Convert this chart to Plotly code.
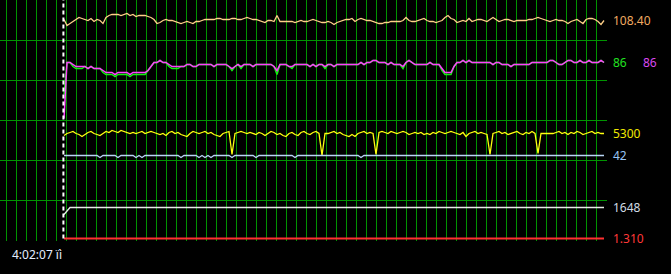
import plotly.graph_objects as go

# ---------------- data ----------------
t = list(range(0, 181))  # sample time, s (1 sample per second)

fps = [
    108.9, 105.9, 106.9, 107.9, 108.9, 109.9, 109.4, 108.9, 108.4, 109.4,
    107.9, 108.9, 108.4, 106.9, 109.9, 110.9, 111.4, 111.4, 111.4, 110.9,
    111.4, 111.9, 110.9, 111.4, 110.4, 110.9, 110.9, 110.9, 110.4, 109.9,
    108.9, 106.9, 107.4, 108.4, 108.9, 108.4, 108.4, 107.9, 107.4, 106.9,
    107.4, 107.9, 107.4, 106.9, 107.9, 107.9, 108.4, 108.9, 108.9, 108.9,
    108.9, 109.4, 109.4, 108.9, 108.9, 108.9, 109.4, 109.4, 108.9, 108.9,
    109.4, 109.9, 109.4, 108.9, 108.9, 108.4, 107.9, 107.4, 108.4, 108.4,
    107.9, 110.9, 107.9, 107.9, 107.9, 107.9, 107.9, 107.4, 107.9, 108.4,
    107.9, 107.9, 108.4, 108.9, 108.4, 107.9, 107.4, 107.4, 107.9, 107.4,
    106.4, 107.4, 107.9, 108.4, 108.9, 108.9, 109.4, 107.9, 108.9, 109.4,
    108.9, 108.4, 108.4, 107.9, 107.4, 106.9, 106.9, 107.4, 107.4, 107.9,
    107.9, 107.9, 107.9, 108.4, 109.9, 108.4, 107.9, 107.9, 108.4, 108.9,
    109.4, 108.4, 107.9, 107.9, 107.4, 107.9, 108.4, 109.9, 110.9, 109.4,
    108.9, 107.4, 107.9, 108.4, 107.9, 109.4, 107.9, 108.4, 108.9, 108.9,
    108.4, 107.9, 108.9, 109.9, 108.9, 107.9, 108.4, 108.9, 108.9, 108.4,
    107.9, 108.4, 108.4, 108.4, 108.4, 108.9, 108.9, 109.4, 109.9, 109.4,
    108.9, 108.4, 107.9, 108.4, 108.9, 108.4, 108.4, 107.9, 106.9, 107.9,
    108.4, 108.9, 107.9, 106.9, 108.9, 109.4, 109.4, 108.9, 107.9, 106.4,
    108.4,
]

temp_b = [  # magenta
    58, 86, 86, 85, 84, 84, 84, 84, 83, 84,
    83, 83, 83, 82, 81, 81, 81, 80, 81, 81,
    81, 81, 80, 81, 81, 81, 81, 81, 82, 84,
    86, 86, 87, 86, 86, 85, 84, 84, 84, 84,
    84, 85, 85, 84, 84, 85, 85, 85, 85, 85,
    84, 85, 85, 85, 85, 84, 83, 84, 85, 84,
    85, 85, 85, 84, 85, 85, 85, 85, 85, 85,
    84, 82, 85, 85, 85, 84, 84, 85, 85, 85,
    85, 85, 84, 85, 84, 85, 85, 84, 85, 85,
    84, 85, 85, 85, 85, 85, 85, 85, 85, 86,
    85, 86, 86, 87, 87, 86, 86, 86, 85, 86,
    85, 85, 85, 84, 86, 87, 86, 85, 85, 85,
    85, 85, 86, 85, 85, 85, 83, 81, 81, 81,
    84, 86, 86, 87, 86, 87, 86, 86, 86, 86,
    86, 86, 86, 85, 86, 86, 85, 85, 85, 84,
    85, 85, 85, 85, 85, 85, 86, 86, 86, 86,
    86, 86, 87, 87, 86, 85, 85, 86, 87, 87,
    86, 86, 87, 86, 86, 87, 86, 86, 86, 87,
    86,
]

temp_a = [  # green
    70, 86, 86, 84, 83, 83, 83, 84, 83, 84,
    83, 83, 83, 81, 80, 80, 80, 79, 80, 80,
    80, 80, 79, 80, 80, 80, 80, 80, 82, 84,
    86, 86, 87, 86, 86, 84, 83, 83, 83, 84,
    84, 85, 85, 84, 84, 85, 85, 85, 85, 85,
    84, 85, 85, 85, 85, 84, 82, 84, 85, 83,
    85, 85, 85, 84, 85, 85, 85, 85, 85, 85,
    84, 80, 85, 85, 85, 84, 83, 85, 85, 85,
    85, 85, 84, 85, 84, 85, 85, 83, 85, 85,
    84, 85, 85, 85, 85, 85, 85, 85, 85, 86,
    85, 86, 86, 87, 87, 86, 86, 86, 85, 86,
    85, 85, 85, 83, 86, 87, 86, 85, 85, 85,
    85, 85, 86, 85, 85, 85, 82, 80, 80, 80,
    84, 86, 86, 87, 86, 87, 86, 86, 86, 86,
    86, 86, 86, 85, 86, 86, 85, 85, 85, 84,
    85, 85, 85, 85, 85, 85, 86, 86, 86, 86,
    86, 86, 87, 87, 86, 85, 85, 86, 87, 87,
    86, 86, 87, 86, 86, 87, 86, 86, 86, 87,
    86,
]

mem_clock = [
    5200, 5300, 5350, 5400, 5300, 5250, 5150, 5250, 5350, 5400,
    5300, 5250, 5200, 5300, 5400, 5350, 5450, 5400, 5350, 5450,
    5400, 5350, 5300, 5350, 5300, 5350, 5400, 5300, 5350, 5400,
    5350, 5300, 5250, 5300, 5200, 5350, 5400, 5300, 5350, 5250,
    5200, 5150, 5300, 5400, 5350, 5300, 5350, 5400, 5300, 5350,
    5250, 5200, 5150, 5300, 5350, 5400, 4250, 5300, 5350, 5400,
    5350, 5300, 5350, 5300, 5250, 5350, 5300, 5200, 5300, 5400,
    5350, 5250, 5300, 5200, 5150, 5300, 5350, 5250, 5200, 5350,
    5400, 5300, 5250, 5350, 5400, 5300, 4200, 5300, 5300, 5350,
    5400, 5300, 5350, 5250, 5200, 5150, 5250, 5150, 5300, 5350,
    5400, 5300, 5350, 5300, 4250, 5350, 5400, 5350, 5300, 5400,
    5350, 5300, 5350, 5400, 5350, 5250, 5300, 5350, 5300, 5350,
    5250, 5300, 5250, 5350, 5300, 5400, 5350, 5300, 5350, 5400,
    5350, 5300, 5250, 5350, 5150, 5300, 5350, 5400, 5300, 5350,
    5300, 5250, 4250, 5300, 5350, 5400, 5300, 5350, 5250, 5300,
    5350, 5400, 5300, 5250, 5350, 5300, 5400, 5300, 4300, 5300,
    5300, 5300, 5300, 5300, 5350, 5400, 5300, 5350, 5250, 5350,
    5300, 5400, 5350, 5250, 5300, 5350, 5400, 5300, 5350, 5300,
    5300,
]

usage = [
    42, 42, 42, 42, 42, 42, 42, 42, 42, 42,
    42, 42, 41, 42, 42, 42, 42, 42, 41, 42,
    42, 42, 42, 42, 41, 42, 41, 42, 42, 42,
    42, 42, 42, 42, 42, 42, 42, 42, 42, 41,
    42, 42, 42, 42, 42, 41, 42, 41, 42, 41,
    42, 42, 42, 42, 42, 42, 41, 42, 42, 42,
    42, 42, 42, 42, 41, 42, 42, 42, 42, 42,
    42, 42, 42, 42, 42, 42, 42, 41, 42, 42,
    42, 42, 42, 42, 42, 42, 42, 42, 42, 42,
    42, 42, 42, 42, 42, 42, 42, 42, 42, 41,
    42, 42, 42, 42, 42, 42, 42, 42, 42, 42,
    42, 42, 42, 42, 42, 42, 42, 42, 42, 42,
    42, 42, 42, 42, 42, 42, 42, 42, 42, 42,
    42, 42, 42, 42, 42, 42, 42, 42, 42, 42,
    42, 42, 42, 42, 42, 42, 42, 42, 42, 42,
    42, 42, 42, 42, 42, 42, 42, 42, 42, 42,
    42, 42, 42, 42, 42, 42, 42, 42, 42, 42,
    42, 42, 42, 42, 42, 42, 42, 42, 42, 42,
    42,
]

core_t = [0, 1, 2, 180]
core_clock = [1298, 1448, 1648, 1648]

volt_t = [0, 180]
voltage = [1.310, 1.310]

marker_t = -0.2          # dashed event marker
time_label = "4:02:07 ïì"
labels = ["108.40", "86", "86", "5300", "42", "1648", "1.310"]

# ---------------- layout helpers ----------------
W, H = 671, 274
ML, MR, MT, MB = 0, 64, 0, 33
PW, PH = W - ML - MR, H - MT - MB      # 607 x 241
PX_PER_S = 3.0
START_PX = 64


def yr(v_top, per_px):
    """axis range so that v_top sits on pixel row 0 with per_px units per pixel"""
    return [v_top - (PH - 0.5) * per_px, v_top + 0.5 * per_px]


x_lo = -START_PX / PX_PER_S
x_hi = x_lo + PW / PX_PER_S

GRID = "#009400"
FONT = "Noto Sans"

fig = go.Figure()

def add(x, y, axis, color, width=1.3):
    fig.add_trace(go.Scatter(x=x, y=y, yaxis=axis, mode="lines",
                             line=dict(color=color, width=width),
                             showlegend=False, hoverinfo="skip"))

add(t, fps, "y", "#ffd088")
add(t, temp_a, "y2", "#10f010", width=1.5)
add(t, temp_b, "y2", "#ff40ff", width=1.5)
add(t, mem_clock, "y3", "#ffff10")
add(t, usage, "y4", "#b8d4f4")
add(core_t, core_clock, "y5", "#e4ece4")
add(volt_t, voltage, "y6", "#ff3030", width=2)

fig.update_layout(
    width=W, height=H,
    margin=dict(l=ML, r=MR, t=MT, b=MB),
    paper_bgcolor="black", plot_bgcolor="black",
    font=dict(family=FONT, size=12),
    xaxis=dict(range=[x_lo, x_hi], showgrid=True, gridcolor=GRID, gridwidth=1,
               tick0=(6 - START_PX) / PX_PER_S, dtick=10 / PX_PER_S,
               showticklabels=False, ticks="", zeroline=False, showline=False),
    yaxis=dict(range=yr(118.4, 0.5), showgrid=True, gridcolor=GRID, gridwidth=1,
               tick0=118.4, dtick=20, showticklabels=False, ticks="",
               zeroline=False, showline=False),
    yaxis2=dict(range=yr(117, 0.5), overlaying="y", visible=False),
    yaxis3=dict(range=yr(11950, 50), overlaying="y", visible=False),
    yaxis4=dict(range=yr(119.5, 0.5), overlaying="y", visible=False),
    yaxis5=dict(range=yr(11998, 50), overlaying="y", visible=False),
    yaxis6=dict(range=yr(2.5, 0.005), overlaying="y", visible=False),
)

fig.add_shape(type="line", xref="x", yref="paper", x0=marker_t, x1=marker_t,
              y0=0.01, y1=1, line=dict(color="white", width=2, dash="4px,3px"))

lab_specs = [
    (labels[0], "y", fps[-1], "#f0aa60", 4),
    (labels[1], "y2", temp_a[-1], "#20e020", 4),
    (labels[2], "y2", temp_b[-1], "#d848f0", 34),
    (labels[3], "y3", mem_clock[-1], "#f0e800", 4),
    (labels[4], "y4", usage[-1], "#98c4f4", 4),
    (labels[5], "y5", core_clock[-1], "#d0dce4", 4),
    (labels[6], "y6", voltage[-1], "#ff3838", 4),
]
for txt, yref, yv, col, xs in lab_specs:
    fig.add_annotation(text=txt, xref="paper", x=1, xanchor="left", xshift=xs,
                       yref=yref, y=yv, yanchor="middle", showarrow=False,
                       font=dict(color=col, size=12, family=FONT))

fig.add_annotation(text=time_label, xref="paper", x=0, xanchor="left", xshift=10,
                   yref="paper", y=0, yanchor="middle", yshift=-13, showarrow=False,
                   font=dict(color="#e4eeff", size=12, family=FONT))

fig.write_html("out.html")
